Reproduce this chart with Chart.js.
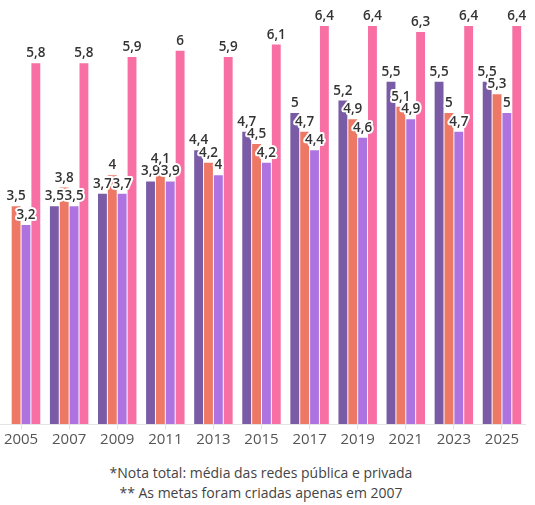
<!DOCTYPE html>
<html>
<head>
<meta charset="utf-8">
<script src="https://cdn.jsdelivr.net/npm/chart.js@4"></script>
<style>
  html, body { margin: 0; padding: 0; background: #fff; width: 535px; height: 505px; overflow: hidden; position: relative; }
  #wrap { position: absolute; left: -3px; top: 0; width: 529px; height: 450px; }
  .note { position: absolute; left: 0; width: 522px; text-align: center; font-family: "Open Sans", sans-serif; font-size: 14px; color: #444; }
</style>
</head>
<body>
<div id="wrap"><canvas id="c" width="529" height="450"></canvas></div>
<div class="note" style="top:463px">*Nota total: média das redes pública e privada</div>
<div class="note" style="top:483px">** As metas foram criadas apenas em 2007</div>
<script>
const years = ["2005","2007","2009","2011","2013","2015","2017","2019","2021","2023","2025"];
const metas   = [null, 3.5, 3.7, 3.9, 4.4, 4.7, 5.0, 5.2, 5.5, 5.5, 5.5];
const total   = [3.5, 3.8, 4.0, 4.1, 4.2, 4.5, 4.7, 4.9, 5.1, 5.0, 5.3];
const publica = [3.2, 3.5, 3.7, 3.9, 4.0, 4.2, 4.4, 4.6, 4.9, 4.7, 5.0];
const privada = [5.8, 5.8, 5.9, 6.0, 5.9, 6.1, 6.4, 6.4, 6.3, 6.4, 6.4];

const labelPlugin = {
  id: 'valueLabels',
  afterDatasetsDraw(chart) {
    const ctx = chart.ctx;
    ctx.save();
    ctx.font = '600 13.5px "Open Sans", sans-serif';
    ctx.textAlign = 'center';
    ctx.textBaseline = 'bottom';
    ctx.lineJoin = 'round';
    chart.data.datasets.forEach((ds, i) => {
      const meta = chart.getDatasetMeta(i);
      meta.data.forEach((bar, j) => {
        const v = ds.data[j];
        if (v === null || v === undefined) return;
        const t = String(v).replace('.', ',');
        ctx.strokeStyle = '#fff';
        ctx.lineWidth = 4;
        ctx.strokeText(t, bar.x, bar.y - 3);
        ctx.fillStyle = '#333';
        ctx.fillText(t, bar.x, bar.y - 3);
      });
    });
    ctx.restore();
  }
};

const common = { barPercentage: 0.9, categoryPercentage: 0.82, borderWidth: 0 };

new Chart(document.getElementById('c'), {
  type: 'bar',
  data: {
    labels: years,
    datasets: [
      Object.assign({ label: 'Meta', data: metas, backgroundColor: '#7A5BA5' }, common),
      Object.assign({ label: 'Total', data: total, backgroundColor: '#EE7866' }, common),
      Object.assign({ label: 'Pública', data: publica, backgroundColor: '#AE73E0' }, common),
      Object.assign({ label: 'Privada', data: privada, backgroundColor: '#F76FA3' }, common)
    ]
  },
  options: {
    responsive: false,
    animation: false,
    layout: { padding: { top: 1, left: 0, right: 0, bottom: 0 } },
    plugins: { legend: { display: false }, tooltip: { enabled: false } },
    scales: {
      y: { display: false, min: 0, max: 6.8 },
      x: {
        afterFit(scale) { scale.height = 26; },
        border: { display: true, color: '#e4e4e4', width: 1 },
        grid: { display: true, offset: false, drawOnChartArea: false, drawTicks: true, tickLength: 5, color: '#e4e4e4' },
        ticks: { color: '#555', font: { family: '"Open Sans", sans-serif', size: 15 }, padding: 2, maxRotation: 0 }
      }
    }
  },
  plugins: [labelPlugin]
});
</script>
</body>
</html>
